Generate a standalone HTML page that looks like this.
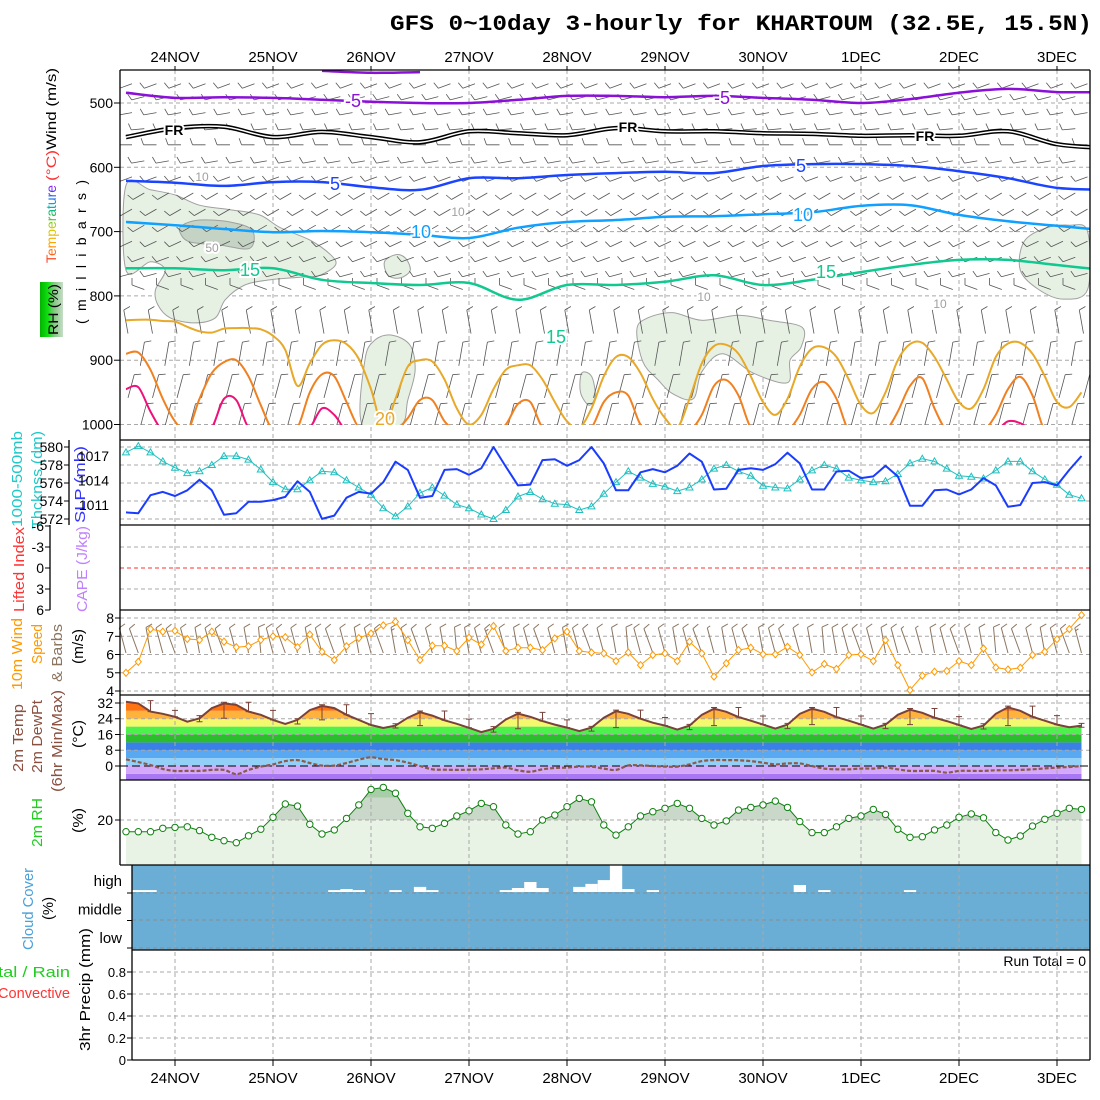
<!DOCTYPE html>
<html><head><meta charset="utf-8"><title>GFS meteogram Khartoum</title>
<style>
html,body{margin:0;padding:0;background:#fff;}
svg{display:block;font-family:"Liberation Sans",sans-serif;}
</style></head>
<body>
<svg id="chart" width="1100" height="1100" viewBox="0 0 1100 1100" xmlns="http://www.w3.org/2000/svg">
<defs>
  <clipPath id="clipUpper"><rect x="120" y="70" width="970" height="355"/></clipPath>
  <clipPath id="clipSlp"><rect x="120" y="440" width="970" height="85"/></clipPath>
  <clipPath id="clipWind"><rect x="120" y="610" width="970" height="85"/></clipPath>
  <clipPath id="clipCloud"><rect x="132" y="865" width="958" height="85"/></clipPath>
  <linearGradient id="tempGrad" x1="0" y1="0" x2="1" y2="0">
    <stop offset="0" stop-color="#ff3030"/><stop offset="0.25" stop-color="#ffa000"/>
    <stop offset="0.45" stop-color="#d0d000"/><stop offset="0.6" stop-color="#20c040"/>
    <stop offset="0.75" stop-color="#00b0d0"/><stop offset="0.9" stop-color="#4040ff"/>
    <stop offset="1" stop-color="#a020f0"/>
  </linearGradient>
  <linearGradient id="rhGrad" x1="0" y1="0" x2="1" y2="0">
    <stop offset="0" stop-color="#00b400"/><stop offset="0.35" stop-color="#10e010"/>
    <stop offset="0.6" stop-color="#80c880"/><stop offset="1" stop-color="#c8dcc8"/>
  </linearGradient>
</defs>

<text x="390" y="30" font-family="Liberation Mono, monospace" font-weight="bold" font-size="22" textLength="702" lengthAdjust="spacingAndGlyphs">GFS 0~10day 3-hourly for KHARTOUM (32.5E, 15.5N)</text>

<g font-size="14">
  <text transform="translate(56,263) rotate(-90)" fill="url(#tempGrad)" textLength="78" lengthAdjust="spacingAndGlyphs">Temperature</text>
  <text transform="translate(56,181) rotate(-90)" fill="#ff3030" textLength="31" lengthAdjust="spacingAndGlyphs">(°C)</text>
  <text transform="translate(56,150) rotate(-90)" fill="#000" textLength="82" lengthAdjust="spacingAndGlyphs">Wind (m/s)</text>
  <rect x="40" y="282" width="23" height="55" fill="url(#rhGrad)"/>
  <text transform="translate(58,335) rotate(-90)" fill="#000" textLength="51" lengthAdjust="spacingAndGlyphs">RH (%)</text>
  <text transform="translate(86,324) rotate(-90)" fill="#000" textLength="144" lengthAdjust="spacing">(millibars)</text>

  <text transform="translate(22,527) rotate(-90)" fill="#20c8c8" font-size="15" textLength="96" lengthAdjust="spacingAndGlyphs">1000-500mb</text>
  <text transform="translate(42,529) rotate(-90)" fill="#20c8c8" font-size="15" textLength="98" lengthAdjust="spacingAndGlyphs">Thcknss (dm)</text>
  <text transform="translate(85,523) rotate(-90)" fill="#3333ff" font-size="15" textLength="77" lengthAdjust="spacingAndGlyphs">SLP (mb)</text>

  <text transform="translate(24,612) rotate(-90)" fill="#ff3333" font-size="15" textLength="85" lengthAdjust="spacingAndGlyphs">Lifted Index</text>
  <text transform="translate(87,612) rotate(-90)" fill="#c080ff" font-size="15" textLength="86" lengthAdjust="spacingAndGlyphs">CAPE (J/kg)</text>

  <text transform="translate(22,690) rotate(-90)" fill="#ff9900" font-size="15" textLength="72" lengthAdjust="spacingAndGlyphs">10m Wind</text>
  <text transform="translate(42,664) rotate(-90)" fill="#ff9900" font-size="15" textLength="40" lengthAdjust="spacingAndGlyphs">Speed</text>
  <text transform="translate(62,682) rotate(-90)" fill="#8b7560" font-size="15" textLength="58" lengthAdjust="spacingAndGlyphs">&amp; Barbs</text>
  <text transform="translate(83,664) rotate(-90)" fill="#000" font-size="15" textLength="35" lengthAdjust="spacingAndGlyphs">(m/s)</text>

  <text transform="translate(23,772) rotate(-90)" fill="#8b5040" font-size="15" textLength="68" lengthAdjust="spacingAndGlyphs">2m Temp</text>
  <text transform="translate(42,773) rotate(-90)" fill="#8b5040" font-size="15" textLength="73" lengthAdjust="spacingAndGlyphs">2m DewPt</text>
  <text transform="translate(62,792) rotate(-90)" fill="#8b5040" font-size="15" textLength="102" lengthAdjust="spacingAndGlyphs">(6hr Min/Max)</text>
  <text transform="translate(83,748) rotate(-90)" fill="#000" font-size="15" textLength="28" lengthAdjust="spacingAndGlyphs">(°C)</text>

  <text transform="translate(42,847) rotate(-90)" fill="#22cc22" font-size="15" textLength="49" lengthAdjust="spacingAndGlyphs">2m RH</text>
  <text transform="translate(83,833) rotate(-90)" fill="#000" font-size="15" textLength="25" lengthAdjust="spacingAndGlyphs">(%)</text>

  <text transform="translate(33,950) rotate(-90)" fill="#4aa0d8" font-size="15" textLength="82" lengthAdjust="spacingAndGlyphs">Cloud Cover</text>
  <text transform="translate(53,920) rotate(-90)" fill="#000" font-size="15" textLength="23" lengthAdjust="spacingAndGlyphs">(%)</text>

  <text x="-2" y="977" fill="#22cc22" font-size="15" textLength="72" lengthAdjust="spacingAndGlyphs">tal / Rain</text>
  <text x="-2" y="998" fill="#ff3333" font-size="15" textLength="72" lengthAdjust="spacingAndGlyphs">Convective</text>
  <text transform="translate(90,1051) rotate(-90)" fill="#000" font-size="15" textLength="123" lengthAdjust="spacingAndGlyphs">3hr Precip (mm)</text>
</g>

<text x="1086" y="966" text-anchor="end" font-size="14">Run Total = 0</text>

<g id="layer"></g>
</svg>

<script>
// ---------------- data ----------------
const dayLabels=['24NOV','25NOV','26NOV','27NOV','28NOV','29NOV','30NOV','1DEC','2DEC','3DEC'];
const pTicks=[500,600,700,800,900,1000];
const thickTicks=[580,578,576,574,572];
const slpTicks=[1017,1014,1011];
const liTicks=[-6,-3,0,3,6];
const windTicks=[8,7,6,5,4];
const tempTicks=[32,24,16,8,0];
const rhTicks=[20];
const precipTicks=[0.8,0.6,0.4,0.2,0];
const cloudLevels=['high','middle','low'];

const slp=[1010.1,1010.0,1012.2,1012.6,1012.1,1012.8,1014.1,1012.8,1009.8,1010.0,1011.4,1011.4,1011.6,1012.0,1013.9,1012.6,1009.3,1009.7,1011.9,1012.6,1012.4,1013.8,
1016.3,1015.3,1011.9,1012.1,1015.3,1015.4,1014.7,1015.5,1018.1,1015.7,1013.4,1013.5,1016.5,1016.6,1015.8,1016.5,1018.1,1016.1,1012.8,1012.8,
1015.0,1015.4,1015.0,1015.8,1017.3,1016.3,1012.9,1013.0,1015.3,1015.5,1015.3,1016.0,1017.4,1016.1,1012.9,1012.9,1015.1,1015.2,1014.3,1014.5,
1015.8,1014.5,1010.9,1010.9,1012.8,1012.9,1012.3,1012.9,1014.3,1013.4,1010.8,1011.0,1013.7,1013.8,1013.4,1015.3,1017.0];

const thick=[579.4,580.1,579.4,578.4,577.7,577.1,577.3,578.0,579.0,579.0,578.6,577.5,576.1,575.3,575.3,576.3,577.3,577.2,576.3,575.5,574.7,573.2,
572.3,573.4,574.9,575.5,574.6,573.6,573.2,572.5,572.0,573.0,574.5,575.0,574.2,573.7,573.6,573.0,573.4,574.8,576.1,577.3,
576.6,575.9,575.6,575.1,575.5,576.4,577.6,578.0,577.3,576.8,575.7,575.5,575.4,576.4,577.4,578.0,577.6,576.6,576.3,576.1,
576.2,577.0,578.2,578.7,578.4,577.6,576.8,576.7,576.5,577.4,578.4,578.4,577.3,576.4,575.8,574.7,574.3];

const wind10=[5.0,5.6,7.4,7.25,7.3,6.85,6.8,7.25,6.7,6.4,6.45,6.8,7.0,6.95,6.4,7.1,6.15,5.7,6.45,6.9,7.15,7.6,
7.80,6.79,5.70,6.48,6.48,6.19,6.92,6.55,7.56,6.19,6.37,6.37,6.24,6.88,7.25,6.19,6.11,6.06,5.64,6.11,
5.42,5.97,6.06,5.64,6.70,6.06,4.79,5.52,6.24,6.37,6.01,6.01,6.42,5.97,5.02,5.48,5.21,5.97,6.01,5.64,
6.79,5.42,4.05,4.84,5.06,5.10,5.64,5.42,6.33,5.29,5.18,5.27,5.97,6.15,6.84,7.39,8.16];

const wind10Dir=[345,340,350,345,340,345,350,345,340,345,350,355,345,340,345,350,345,340,345,350,345,340,
350,345,340,345,350,355,350,345,340,345,350,345,340,345,350,345,340,345,350,355,
345,340,345,350,345,340,345,350,345,340,350,345,340,345,350,355,350,345,340,345,
350,345,340,345,350,345,340,345,350,355,345,340,345,350,345,340,345];

const temp2m=[32.6,31.8,27.6,26.5,25.0,22.5,24.2,29.4,
31.8,31.0,27.6,26.0,23.4,21.3,23.4,28.4,
30.5,29.4,26.0,23.4,20.8,19.3,20.5,24.5,
27.3,25.6,23.2,21.4,19.4,17.2,18.9,23.6,
26.6,25.0,22.8,21.0,19.5,17.7,19.5,24.5,
27.8,26.5,24.0,22.0,20.5,18.5,20.5,26.0,
29.1,27.5,24.8,23.0,21.0,19.0,21.0,26.5,
29.1,27.5,24.8,23.0,21.0,19.0,21.0,26.0,
28.6,27.0,24.5,22.8,20.8,18.8,20.5,26.5,
29.8,28.0,25.0,23.0,21.0,19.7,20.5];

const dew2m=[3.4,2.0,0.5,-1.5,-2.5,-2.5,-2.5,-2.0,-2.0,-4.1,-2.0,-0.3,0.8,2.5,3.0,1.5,0.2,0.2,1.5,3.2,4.4,3.5,
3.0,1.7,0,-1.7,-1.9,-2.0,-1.9,-1.7,-1.2,-0.8,-2.2,-2.9,-1.7,-1.0,-0.8,-0.3,-0.3,-1.3,-2.0,0.3,
0.3,0,-0.3,-0.3,0.8,2.5,3.0,3.0,2.9,2.5,1.7,0.8,1.3,1.3,0,-1.3,-1.7,-1.7,-1.3,-1.3,
-0.8,-1.7,-2.5,-2.5,-2.5,-3.4,-2.5,-2.5,-2.5,-2.2,-2.2,-2.0,-1.7,-1.2,-0.8,-0.5,0];

const rh2m=[14.8,14.8,14.8,16.3,16.7,17.0,15.3,12.3,10.8,9.9,13.0,15.9,21.2,27.1,26.2,18.1,13.8,15.6,20.7,26.7,33.6,34.5,
31.9,23.0,17.0,16.3,18.5,21.8,24.1,27.4,25.9,17.8,13.8,14.8,20.0,22.2,25.9,29.6,28.1,17.8,13.3,17.0,
21.8,23.7,25.2,27.4,25.2,20.7,17.8,19.6,24.4,25.6,26.7,28.4,25.6,19.3,14.4,14.4,17.0,20.7,21.8,24.7,
22.5,15.9,12.3,12.6,15.6,17.8,21.2,22.7,21.0,14.4,11.1,12.9,17.3,20.3,23.0,25.2,24.7];

const highCloud=[93,93,93,100,100,100,100,100,100,100,100,100,100,100,100,100,100,93,89,93,100,100,
93,100,81,93,100,100,100,100,100,93,85,63,85,100,100,81,70,56,0,89,
100,93,100,100,100,100,100,100,100,100,100,100,100,74,100,93,100,100,100,100,
100,100,93,100,100,100,100,100,100,100,100,100,100,100,100,100,100];

const precip3h=[0,0,0,0,0,0,0,0,0,0,0,0,0,0,0,0,0,0,0,0,0,0,0,0,0,0,0,0,0,0,0,0,0,0,0,0,0,0,0,0,
0,0,0,0,0,0,0,0,0,0,0,0,0,0,0,0,0,0,0,0,0,0,0,0,0,0,0,0,0,0,0,0,0,0,0,0,0,0,0];

const iso20=[838,837,837,839,840,848,855,857,851,850,850,852,862,884,940,905,876,869,875,898,945,1005,960,910,900,902,930,975,1000,985,
945,915,908,908,930,965,995,1005,975,925,895,895,920,960,990,1005,960,905,878,876,890,925,965,985,960,910,882,880,895,930,
970,982,950,900,875,873,895,930,965,975,945,895,874,873,890,925,965,973,950];
const iso25=[890,888,915,960,995,1010,960,920,903,900,925,970,1010,1010,1005,950,922,925,965,1005,1010,1010,1010,990,962,962,995,1010,1010,1010,
1010,1000,968,965,1005,1010,1010,1010,1005,965,950,955,1000,1010,1010,1010,1010,985,940,931,955,1005,1010,1010,1010,985,945,934,960,1010,
1010,1010,1010,980,940,928,975,1010,1010,1010,1010,985,945,926,955,1010,1010,1010,1010];
const iso30=[945,942,980,1010,1010,1010,1010,1005,960,962,1005,1010,1010,1010,1010,1005,975,985,1010,1010,1010,1010,1010,1010,1010,1010,1010,1010,1010,1010,
1010,1010,1010,1010,1010,1010,1010,1010,1010,1010,1010,1010,1010,1010,1010,1010,1010,1010,1010,1010,1010,1010,1010,1010,1010,1010,1010,1010,1010,1010,
1010,1010,1010,1010,1010,1010,1010,1010,1010,1010,1010,1010,995,998,1010,1010,1010,1010,1010];
const isoM10=[null,null,null,null,450,453,452,null,null,null,null,null,null,null,null,null,null,null,null,null,null];
const isoM5=[484,492,491,492,495,498,500,500,495,489,489,491,489,492,495,500,494,484,478,483,483];
const isoFR=[553,539,537,553,545,553,561,544,547,550,539,544,544,547,548,551,550,551,544,564,570];
const iso5=[621,624,629,623,623,631,635,617,617,612,609,607,609,598,595,595,598,606,617,632,635];
const iso10=[685,690,696,701,699,701,705,710,694,685,682,677,676,673,670,660,659,674,684,691,698];
const iso15=[757,757,760,757,775,780,783,780,806,783,783,778,768,783,775,763,752,744,744,752,760];

const rhBlobAT=[0,2,4,6,8.5,10.9,12.6,15,16.7,17.1,15.8,14.2,11.8,9.7,8.1,7.3,5.6,3.6,2.6,2.4,3.2,2,0];
const rhBlobAP=[628,635,643,659,666,674,694,713,736,752,768,771,775,783,806,834,842,834,814,791,760,747,760];
const rhBlobBT=[4.6,6.0,8.5,10.3,10.1,7.7,5.2,4.4];
const rhBlobBP=[690,682,685,698,726,721,716,701];
const rhBlobCT=[21.1,22.0,22.8,23.2,22.4,21.4];
const rhBlobCP=[747,736,741,760,772,768];
const rhBlobDT=[19.3,19.5,20.3,21.7,23.2,23.6,23.0,22.4];
const rhBlobDP=[1001,900,869,861,877,916,962,1001];
const rhBlobET=[41.7,42.5,44.6,47.0,50.0,52.5,55.2,55.1,54.2,54.0,51.2,48.7,47.0,46.3,44.6,43.4,42.2];
const rhBlobEP=[853,835,826,838,830,838,849,880,900,935,920,890,918,960,952,930,903];
const rhBlobFT=[37.2,38.0,38.3,37.8,37.1];
const rhBlobFP=[920,925,955,970,950];
const rhBlobGT=[73.3,75.0,77.0,78.5,78.5,76.5,74.5,73.0];
const rhBlobGP=[716,695,690,700,790,805,790,760];

const barbLevels=[470,490,515,540,565,590,615,640,665,690,715,740,765,790,840,890,940,985];
const barbDir=[250,255,260,265,270,260,250,240,240,240,245,250,255,290,350,10,15,15];
const barbSpd=[6,6,6,6,5,5,5,5,5,5,5,5,5,5,5,6,7,7];

// ---------------- scales ----------------
const X=i=>126+i*12.25;
const DAYX=d=>X(4+8*d);
const PY=p=>103+(p-500)*0.643;
const SLPY=v=>456+(1017-v)*8.17;
const THY=v=>447+(580-v)*9;
const LIY=v=>568+v*7;
const WY=v=>618+(8-v)*18.25;
const TY=v=>766-v*1.97;
const RY=v=>865-v*2.25;
const PRY=v=>1060-v*110;

// ---------------- helpers ----------------
const NS='http://www.w3.org/2000/svg';
const layer=document.getElementById('layer');
function mk(tag,attrs,parent){const e=document.createElementNS(NS,tag);for(const k in attrs)e.setAttribute(k,attrs[k]);(parent||layer).appendChild(e);return e;}
function f(n){return (Math.round(n*10)/10).toString();}
function smooth(pts,closed){
  if(pts.length<2)return '';
  const P=closed?[pts[pts.length-1],...pts,pts[0],pts[1]]:[pts[0],...pts,pts[pts.length-1]];
  let d='M'+f(P[1][0])+','+f(P[1][1]);
  const n=closed?pts.length:pts.length-1;
  for(let k=1;k<=n;k++){
    const p0=P[k-1],p1=P[k],p2=P[k+1],p3=P[k+2]||p2;
    d+=' C'+f(p1[0]+(p2[0]-p0[0])/6)+','+f(p1[1]+(p2[1]-p0[1])/6)+' '+f(p2[0]-(p3[0]-p1[0])/6)+','+f(p2[1]-(p3[1]-p1[1])/6)+' '+f(p2[0])+','+f(p2[1]);
  }
  return d+(closed?' Z':'');
}
function poly(pts){return pts.map((p,k)=>(k?'L':'M')+f(p[0])+','+f(p[1])).join(' ');}

const gFill=mk('g',{});


const gGrid=mk('g',{});


const gUpper=mk('g',{'clip-path':'url(#clipUpper)'});


const gSeries=mk('g',{});


const gAxes=mk('g',{});



// ---------------- fills ----------------
const bandEdges=[-20,-4,0,4,8,12,16,20,24,28,60];
const bandColors=['#a878f2','#d4a8fb','#93d0f8','#58a8f2','#3a80e6','#2bbd2b','#4ef04e','#f3f86e','#ffb23c','#ff7410'];
const tempPts=temp2m.map((v,i)=>[X(i),TY(v)]);
const cp=mk('clipPath',{id:'clipTemp'},document.querySelector('defs'));
const cpPath=mk('path',{d:poly(tempPts)+' L'+f(X(temp2m.length-1))+',780 L'+f(X(0))+',780 Z'},cp);


const gBands=mk('g',{'clip-path':'url(#clipTemp)'},gFill);


for(let b=0;b<bandColors.length;b++){
  const y1=Math.max(695,TY(bandEdges[b+1])), y2=Math.min(780,TY(bandEdges[b]));
  if(y2<=y1)continue;
  const r=mk('rect',{x:X(0),y:f(y1),width:f(X(temp2m.length-1)-X(0)),height:f(y2-y1),fill:bandColors[b]},gBands);
  
  
}
const rhPts=rh2m.map((v,i)=>[X(i),RY(v)]);
const rhArea=poly(rhPts)+' L'+f(X(rh2m.length-1))+',865 L'+f(X(0))+',865 Z';
const rhFill=mk('path',{d:rhArea,fill:'#e8f3e6'},gFill);


const cpR=mk('clipPath',{id:'clipRH'},document.querySelector('defs'));
const cpRp=mk('path',{d:rhArea},cpR);


const rhMid=mk('rect',{x:120,y:780,width:970,height:f(RY(20)-780),fill:'#c9d8c9','clip-path':'url(#clipRH)'},gFill);


const rhHigh=mk('rect',{x:120,y:780,width:970,height:f(RY(30)-780),fill:'#a9cca9','clip-path':'url(#clipRH)'},gFill);


const gCloud=mk('g',{'clip-path':'url(#clipCloud)'},gFill);


const cloudBg=mk('rect',{x:132,y:865,width:958,height:85,fill:'#6aaed6'},gCloud);


highCloud.forEach((v,i)=>{
  if(v>=100)return;
  const h=(100-v)/100*27;
  const r=mk('rect',{x:f(X(i)-6.1),y:f(892-h),width:12.3,height:f(h),fill:'#ffffff'},gCloud);
  
  
});
precip3h.forEach((v,i)=>{
  if(v<=0)return;
  const r=mk('rect',{x:f(X(i)-5),y:f(PRY(v)),width:10,height:f(1060-PRY(v)),fill:'#22cc22'},gFill);
  
  
});

// ---------------- grid ----------------
function gline(x1,y1,x2,y2,color,dash,name,w){
  const l=mk('line',{x1:f(x1),y1:f(y1),x2:f(x2),y2:f(y2),stroke:color,'stroke-width':w||1,'stroke-dasharray':dash||'none'},gGrid);
  
  
  return l;
}
dayLabels.forEach((d,k)=>{gline(DAYX(k),70,DAYX(k),1060,'#a8a8a8','4,3','day-gridline');});
pTicks.forEach(p=>gline(120,PY(p),1090,PY(p),'#a8a8a8','4,3','pressure-gridline'));
thickTicks.forEach(v=>gline(120,THY(v),1090,THY(v),'#a8a8a8','4,3','thickness-gridline'));
[-3,3].forEach(v=>gline(120,LIY(v),1090,LIY(v),'#a8a8a8','4,3','li-gridline'));
gline(120,LIY(0),1090,LIY(0),'#ff3030','4,3','li-zero-line');
windTicks.forEach(v=>gline(120,WY(v),1090,WY(v),'#a8a8a8','4,3','wind-gridline'));
tempTicks.forEach(v=>gline(120,TY(v),1090,TY(v),v===0?'#000':'#a8a8a8',v===0?'8,4':'4,3','temp-gridline'));
rhTicks.forEach(v=>gline(120,RY(v),1090,RY(v),'#a8a8a8','4,3','rh-gridline'));
[893,920,948].forEach(y=>gline(132,y,1090,y,'#8c8c8c','4,3','cloud-level-gridline'));
precipTicks.forEach(v=>gline(132,PRY(v),1090,PRY(v),'#a8a8a8','4,3','precip-gridline'));

// ---------------- upper air panel ----------------
function blob(T,P,fill,name){
  const pts=T.map((t,k)=>[X(t),PY(P[k])]);
  const b=mk('path',{d:smooth(pts,true),fill:fill,stroke:'#a0a0a0','stroke-width':1},gUpper);
  
  
}
blob(rhBlobAT,rhBlobAP,'#e6f1e4','rh-shade-region');
blob(rhBlobBT,rhBlobBP,'#c5d3c5','rh-shade-region-50');
blob(rhBlobCT,rhBlobCP,'#e6f1e4','rh-shade-region');
blob(rhBlobDT,rhBlobDP,'#e6f1e4','rh-shade-region');
blob(rhBlobET,rhBlobEP,'#e6f1e4','rh-shade-region');
blob(rhBlobFT,rhBlobFP,'#e6f1e4','rh-shade-region');
blob(rhBlobGT,rhBlobGP,'#e6f1e4','rh-shade-region');

function barb(x,y,dir,spd,len,color,parent,name,w){
  const th=dir*Math.PI/180, ux=Math.sin(th), uy=-Math.cos(th);
  const px=-uy, py=ux;
  const ex=x+ux*len, ey=y+uy*len;
  let d='M'+f(x)+','+f(y)+' L'+f(ex)+','+f(ey);
  let full=Math.floor(spd/5), half=(spd%5)>=2.5?1:0, pos=0;
  for(let k=0;k<full;k++){const bx=ex-ux*pos,by=ey-uy*pos;d+=' M'+f(bx)+','+f(by)+' l'+f((px*0.94+ux*0.34)*7)+','+f((py*0.94+uy*0.34)*7);pos+=3;}
  if(half){const bx=ex-ux*pos,by=ey-uy*pos;d+=' M'+f(bx)+','+f(by)+' l'+f((px*0.94+ux*0.34)*3.5)+','+f((py*0.94+uy*0.34)*3.5);}
  const e=mk('path',{d:d,stroke:color,'stroke-width':w||1,fill:'none'},parent);
  
  
}
barbLevels.forEach((p,li)=>{
  const low=p>=820;
  for(let i=(li%2);i<=78;i+=2){
    const x=low?X(i)+2:X(i)+6, y=PY(p)+(low?12:0);
    barb(x,y,barbDir[li],barbSpd[li],low?24:13,'#555',gUpper,'upper-wind-barb',0.8);
  }
});

function contour3h(arr,color,w,name){
  const pts=arr.map((p,i)=>[X(i),PY(p)]);
  const c=mk('path',{d:smooth(pts,false),fill:'none',stroke:color,'stroke-width':w,'stroke-linejoin':'round'},gUpper);
  
  
}
contour3h(iso20,'#e8a828',2,'isotherm-20c');
contour3h(iso25,'#f08020',2,'isotherm-25c');
contour3h(iso30,'#f0107a',2,'isotherm-30c');

function contour12h(arr,color,w,name){
  let seg=[];const segs=[];
  arr.forEach((p,k)=>{if(p===null){if(seg.length)segs.push(seg);seg=[];}else seg.push([X(k*4),PY(p)]);});
  if(seg.length)segs.push(seg);
  segs.forEach(s=>{
    const c=mk('path',{d:smooth(s,false),fill:'none',stroke:color,'stroke-width':w,'stroke-linejoin':'round'},gUpper);
    
    
  });
}
contour12h(isoM10,'#8a10d8',2.5,'isotherm-minus10c');
contour12h(isoM5,'#8a10d8',2.5,'isotherm-minus5c');
contour12h(isoFR,'#000',4.5,'freezing-level-outer');
contour12h(isoFR,'#fff',1.5,'freezing-level-inner');
contour12h(iso5,'#1a44ff',2.5,'isotherm-5c');
contour12h(iso10,'#10a0ff',2.5,'isotherm-10c');
contour12h(iso15,'#10c890',2.5,'isotherm-15c');

function clabel(txt,x,y,color,size,name){
  const t=mk('text',{x:x,y:y,fill:color,'font-size':size,'text-anchor':'middle',stroke:'#fff','stroke-width':4,'paint-order':'stroke','font-weight':txt==='FR'?'bold':'normal'},gUpper);
  t.textContent=txt;
  
  
}
clabel('-5',353,107,'#8a10d8',18,'contour-label');
clabel('-5',722,104,'#8a10d8',18,'contour-label');
clabel('FR',174,135,'#000',14,'contour-label');
clabel('FR',628,132,'#000',14,'contour-label');
clabel('FR',925,141,'#000',14,'contour-label');
clabel('5',335,190,'#1a44ff',18,'contour-label');
clabel('5',801,172,'#1a44ff',18,'contour-label');
clabel('10',421,238,'#10a0ff',18,'contour-label');
clabel('10',803,221,'#10a0ff',18,'contour-label');
clabel('15',250,276,'#10c890',18,'contour-label');
clabel('15',826,278,'#10c890',18,'contour-label');
clabel('15',556,343,'#10c890',18,'contour-label');
clabel('20',385,425,'#e8a828',18,'contour-label');
clabel('10',202,181,'#a0a0a0',12,'contour-label');
clabel('50',212,252,'#a0a0a0',12,'contour-label');
clabel('10',458,216,'#a0a0a0',12,'contour-label');
clabel('10',704,301,'#a0a0a0',12,'contour-label');
clabel('10',940,308,'#a0a0a0',12,'contour-label');

// ---------------- surface series ----------------
function series(arr,scale,color,w,name,clip){
  const pts=arr.map((v,i)=>[X(i),scale(v)]);
  const a={d:poly(pts),fill:'none',stroke:color,'stroke-width':w,'stroke-linejoin':'round'};
  if(clip)a['clip-path']=clip;
  const l=mk('path',a,gSeries);
  
  
  return pts;
}
const thPts=series(thick,THY,'#20c0c0',1,'thickness-line','url(#clipSlp)');
thPts.forEach(p=>{
  const m=mk('path',{d:'M'+f(p[0])+','+f(p[1]-3.5)+' l3.5,6 l-7,0 Z',fill:'none',stroke:'#20c0c0','stroke-width':1},gSeries);
  
  
});
series(slp,SLPY,'#1a3cff',2,'slp-line','url(#clipSlp)');

wind10.forEach((v,i)=>{ barb(X(i),653,wind10Dir[i],v,26,'#8b7560',gSeries,'wind10-barb',1); });
const wPts=series(wind10,WY,'#ff9900',1,'wind10-speed-line','url(#clipWind)');
wPts.forEach(p=>{
  const m=mk('path',{d:'M'+f(p[0])+','+f(p[1]-3.5)+' l3,3.5 l-3,3.5 l-3,-3.5 Z',fill:'#fff',stroke:'#ff9900','stroke-width':1},gSeries);
  
  
});

const tLine=mk('path',{d:poly(tempPts),fill:'none',stroke:'#7a4238','stroke-width':2},gSeries);


for(let i=2;i<temp2m.length;i+=2){
  const hi=Math.max(temp2m[i-2],temp2m[i-1],temp2m[i])+0.6, lo=Math.min(temp2m[i-2],temp2m[i-1],temp2m[i]);
  const x=X(i);
  const e=mk('path',{d:'M'+f(x)+','+f(TY(hi))+' L'+f(x)+','+f(TY(lo))+' M'+f(x-3)+','+f(TY(hi))+' l6,0 M'+f(x-3)+','+f(TY(lo))+' l6,0',stroke:'#7a4238','stroke-width':1,fill:'none'},gSeries);
  
  
}
const dLine=mk('path',{d:smooth(dew2m.map((v,i)=>[X(i),TY(v)]),false),fill:'none',stroke:'#8b5a4a','stroke-width':2.2,'stroke-dasharray':'4,2'},gSeries);



const rLine=mk('path',{d:poly(rhPts),fill:'none',stroke:'#108010','stroke-width':1},gSeries);


rhPts.forEach(p=>{
  const c=mk('circle',{cx:f(p[0]),cy:f(p[1]),r:3.2,fill:'#fff',stroke:'#108010','stroke-width':1},gSeries);
  
  
});

// ---------------- axes / frames ----------------
function al(x1,y1,x2,y2,name,w){
  const l=mk('line',{x1:f(x1),y1:f(y1),x2:f(x2),y2:f(y2),stroke:'#000','stroke-width':w||1.3},gAxes);
  
  
}
function tl(txt,x,y,anchor,name,size){
  const t=mk('text',{x:f(x),y:f(y),'text-anchor':anchor||'end','font-size':size||14,fill:'#000'},gAxes);
  t.textContent=txt;
  
  
}
al(120,70,1090,70,'upper-panel-top');
al(120,70,120,865,'left-axis');
al(132,865,132,1060,'cloud-precip-left-axis');
al(1090,70,1090,1060,'right-frame');
[440,525,610,695,780,865].forEach(y=>al(120,y,1090,y,'panel-separator'));
al(132,950,1090,950,'panel-separator');
al(132,1060,1090,1060,'bottom-axis');
al(69,440,69,525,'thickness-axis');
al(50,525,50,610,'li-axis');

pTicks.forEach(p=>{al(114,PY(p),120,PY(p),'pressure-tick',1);tl(String(p),113,PY(p)+5,'end','pressure-tick-label',14);});
thickTicks.forEach(v=>{al(64,THY(v),69,THY(v),'thickness-tick',1);tl(String(v),63,THY(v)+5,'end','thickness-tick-label',14);});
slpTicks.forEach(v=>tl(String(v),109,SLPY(v)+5,'end','slp-tick-label',14));
liTicks.forEach(v=>{al(45,LIY(v),50,LIY(v),'li-tick',1);tl(String(v),44,LIY(v)+5,'end','li-tick-label',14);});
windTicks.forEach(v=>{al(115,WY(v),120,WY(v),'wind-tick',1);tl(String(v),114,WY(v)+5,'end','wind-tick-label',14);});
tempTicks.forEach(v=>{al(115,TY(v),120,TY(v),'temp-tick',1);tl(String(v),113,TY(v)+5,'end','temp-tick-label',14);});
rhTicks.forEach(v=>{al(115,RY(v),120,RY(v),'rh-tick',1);tl(String(v),113,RY(v)+5,'end','rh-tick-label',14);});
cloudLevels.forEach((s,k)=>{al(127,893+k*27.5,132,893+k*27.5,'cloud-tick',1);tl(s,122,886+k*28.5,'end','cloud-level-label',15);});
precipTicks.forEach(v=>{al(127,PRY(v),132,PRY(v),'precip-tick',1);tl(String(v),126,PRY(v)+5,'end','precip-tick-label',13);});
dayLabels.forEach((d,k)=>{
  al(DAYX(k),66,DAYX(k),70,'day-tick-top',1);
  al(DAYX(k),1060,DAYX(k),1066,'day-tick-bottom',1);
  tl(d,DAYX(k),62,'middle','top-date-label',15);
  tl(d,DAYX(k),1083,'middle','bottom-date-label',15);
});
</script>
</body></html>
